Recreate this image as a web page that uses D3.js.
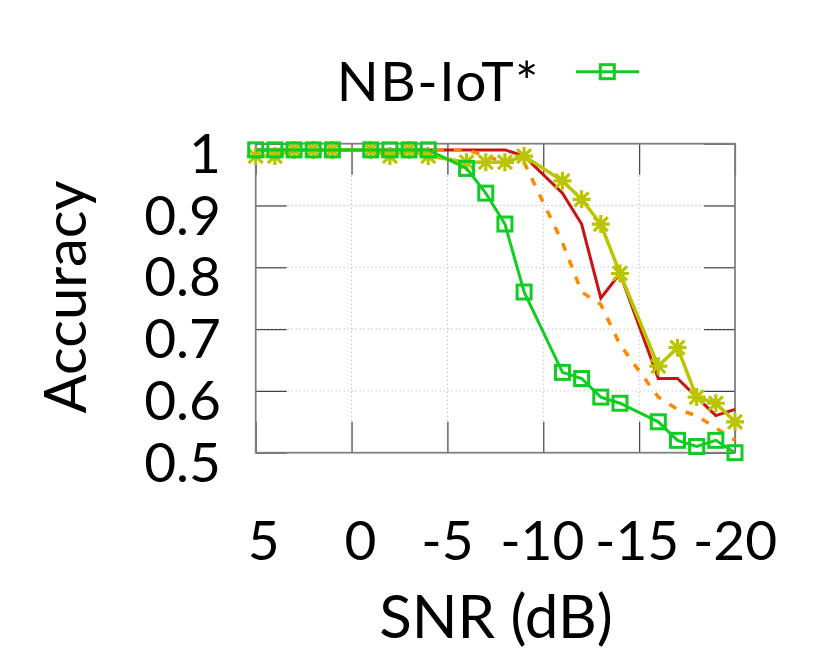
<!DOCTYPE html>
<html>
<head>
<meta charset="utf-8">
<script src="https://cdn.jsdelivr.net/npm/d3@7"></script>
<style>
  body { margin: 0; background: #fff; }
  text { font-family: Lato, "Noto Sans", sans-serif; fill: #000; }
</style>
</head>
<body>
<div class="chart"></div>
<script>
// values
var snr = [5, 4, 3, 2, 1, -1, -2, -3, -4, -6, -7, -8, -9, -11, -12, -13, -14, -16, -17, -18, -19, -20];
var nbiotStar = [0.99, 0.99, 0.99, 0.99, 0.99, 0.99, 0.99, 0.99, 0.99, 0.96, 0.92, 0.87, 0.76, 0.63, 0.62, 0.59, 0.58, 0.55, 0.52, 0.51, 0.52, 0.50];
var redSolid = [0.99, 0.99, 0.99, 0.99, 0.99, 0.99, 0.99, 0.99, 0.99, 0.99, 0.99, 0.99, 0.98, 0.92, 0.87, 0.75, 0.79, 0.62, 0.62, 0.59, 0.56, 0.57];
var orangeDashed = [0.99, 0.99, 0.99, 0.99, 0.99, 0.99, 0.99, 0.99, 0.99, 0.99, 0.98, 0.97, 0.97, 0.84, 0.76, 0.74, 0.675, 0.59, 0.57, 0.56, 0.54, 0.52];
var yellowStar = [0.98, 0.98, 0.99, 0.99, 0.99, 0.99, 0.98, 0.99, 0.98, 0.97, 0.97, 0.97, 0.98, 0.94, 0.91, 0.87, 0.79, 0.64, 0.67, 0.59, 0.58, 0.55];
var xTicks = [5, 0, -5, -10, -15, -20];
var yTicks = [0.5, 0.6, 0.7, 0.8, 0.9, 1];
var xLabelShift = [8, 9, 0, -1, -2, 0]; // small nudges seen in the original

function init() {
  var w = 830;
  var h = 664;
  var left = 255.7, right = 735, top = 143.7, bottom = 452.7;
  var fontSize = 55;

  var svg = d3.select(".chart")
    .append("svg")
    .attr("width", w)
    .attr("height", h);

  var xScale = d3.scaleLinear()
    .domain([5, -20])
    .range([left, right]);

  var yScale = d3.scaleLinear()
    .domain([0.5, 1])
    .range([bottom, top]);

  // dotted grid
  svg.append("g")
    .selectAll("line.vgrid")
    .data(xTicks.slice(1, -1))
    .enter().append("line")
    .attr("x1", function(d) { return xScale(d); })
    .attr("x2", function(d) { return xScale(d); })
    .attr("y1", top)
    .attr("y2", bottom)
    .style("stroke", "#a8a8a8")
    .style("stroke-width", 1)
    .style("stroke-dasharray", "1,3");

  svg.append("g")
    .selectAll("line.hgrid")
    .data(yTicks.slice(1, -1))
    .enter().append("line")
    .attr("x1", left)
    .attr("x2", right)
    .attr("y1", function(d) { return yScale(d); })
    .attr("y2", function(d) { return yScale(d); })
    .style("stroke", "#a8a8a8")
    .style("stroke-width", 1)
    .style("stroke-dasharray", "1,3");

  // inward ticks on all four sides
  var tickLen = 31;
  function tickAxis(axis, transform) {
    var g = svg.append("g")
      .attr("transform", transform)
      .call(axis);
    g.select(".domain").remove();
    g.selectAll("text").remove();
    g.selectAll(".tick line").style("stroke", "#444").style("stroke-width", 1.2);
  }
  tickAxis(d3.axisBottom(xScale).tickValues(xTicks).tickSize(-tickLen), "translate(0," + bottom + ")");
  tickAxis(d3.axisTop(xScale).tickValues(xTicks).tickSize(-tickLen), "translate(0," + top + ")");
  tickAxis(d3.axisLeft(yScale).tickValues(yTicks).tickSize(-tickLen), "translate(" + left + ",0)");
  tickAxis(d3.axisRight(yScale).tickValues(yTicks).tickSize(-tickLen), "translate(" + right + ",0)");

  // border
  svg.append("rect")
    .attr("x", left)
    .attr("y", top)
    .attr("width", right - left)
    .attr("height", bottom - top)
    .style("fill", "none")
    .style("stroke", "#808080")
    .style("stroke-width", 1.8);

  // tick labels
  svg.append("g")
    .selectAll("text")
    .data(yTicks)
    .enter().append("text")
    .attr("x", 221)
    .attr("y", function(d) { return yScale(d) + 29; })
    .attr("text-anchor", "end")
    .attr("font-size", fontSize)
    .text(function(d) { return d; });

  svg.append("g")
    .selectAll("text")
    .data(xTicks)
    .enter().append("text")
    .attr("x", function(d, i) { return xScale(d) + xLabelShift[i]; })
    .attr("y", 560)
    .attr("text-anchor", "middle")
    .attr("font-size", fontSize)
    .text(function(d) { return d; });

  // axis titles
  svg.append("text")
    .attr("x", 496)
    .attr("y", 638)
    .attr("text-anchor", "middle")
    .attr("font-size", 60)
    .text("SNR (dB)");

  svg.append("text")
    .attr("transform", "rotate(-90)")
    .attr("x", -297)
    .attr("y", 86)
    .attr("text-anchor", "middle")
    .attr("font-size", 58)
    .text("Accuracy");

  // series
  function series(values) {
    return snr.map(function(d, i) { return { x: d, y: values[i] }; });
  }

  var line = d3.line()
    .x(function(d) { return xScale(d.x); })
    .y(function(d) { return yScale(d.y); });

  var plot = svg.append("g");

  plot.append("path")
    .datum(series(redSolid))
    .attr("d", line)
    .style("fill", "none")
    .style("stroke", "#cc1111")
    .style("stroke-width", 3)
    .style("stroke-linejoin", "miter");

  plot.append("path")
    .datum(series(orangeDashed))
    .attr("d", line)
    .style("fill", "none")
    .style("stroke", "#ff8800")
    .style("stroke-width", 3.5)
    .style("stroke-dasharray", "8,10");

  plot.append("path")
    .datum(series(yellowStar))
    .attr("d", line)
    .style("fill", "none")
    .style("stroke", "#bbc400")
    .style("stroke-width", 3.5);

  var star = "M-9,0H9M0,-9V9M-7,-7L7,7M-7,7L7,-7";
  plot.selectAll("path.star")
    .data(series(yellowStar))
    .enter().append("path")
    .attr("class", "star")
    .attr("transform", function(d) { return "translate(" + xScale(d.x) + "," + yScale(d.y) + ")"; })
    .attr("d", star)
    .style("fill", "none")
    .style("stroke", "#bbc400")
    .style("stroke-width", 3.2);

  plot.append("path")
    .datum(series(nbiotStar))
    .attr("d", line)
    .style("fill", "none")
    .style("stroke", "#11cc22")
    .style("stroke-width", 3);

  plot.selectAll("rect.sq")
    .data(series(nbiotStar))
    .enter().append("rect")
    .attr("class", "sq")
    .attr("x", function(d) { return xScale(d.x) - 7; })
    .attr("y", function(d) { return yScale(d.y) - 7; })
    .attr("width", 14)
    .attr("height", 14)
    .style("fill", "none")
    .style("stroke", "#11cc22")
    .style("stroke-width", 3);

  // legend
  var legend = svg.append("g");
  legend.append("text")
    .attr("x", 540)
    .attr("y", 100.7)
    .attr("text-anchor", "end")
    .attr("font-size", fontSize)
    .attr("letter-spacing", 1.5)
    .text("NB-IoT*");
  legend.append("line")
    .attr("x1", 576)
    .attr("x2", 639)
    .attr("y1", 71.7)
    .attr("y2", 71.7)
    .style("stroke", "#11cc22")
    .style("stroke-width", 3);
  legend.append("rect")
    .attr("x", 607.3 - 7)
    .attr("y", 71.7 - 7)
    .attr("width", 14)
    .attr("height", 14)
    .style("fill", "none")
    .style("stroke", "#11cc22")
    .style("stroke-width", 3);
}

window.onload = init;
</script>
</body>
</html>
